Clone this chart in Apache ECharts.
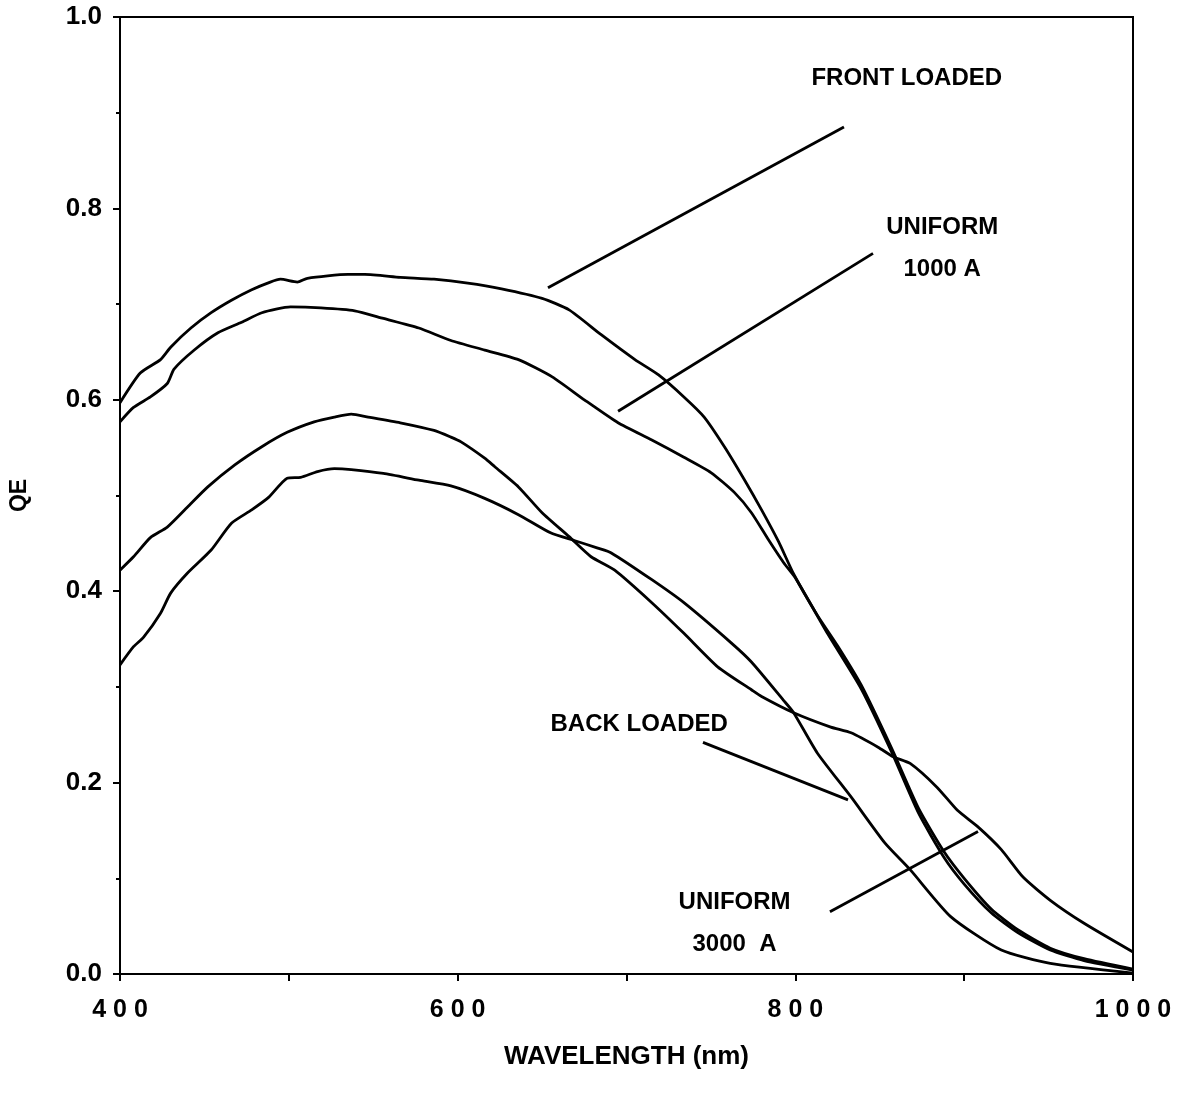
<!DOCTYPE html>
<html>
<head>
<meta charset="utf-8">
<script src="https://cdn.jsdelivr.net/npm/echarts@6/dist/echarts.min.js"></script>
<style>
  html, body { margin: 0; padding: 0; background: #fff; }
  #chart { width: 1181px; height: 1099px; }
</style>
</head>
<body>
<div id="chart"></div>
<script>
// ---- Data (wavelength in nm, QE fraction) ----
const wlFront = [400,412,424,430,442,454,466,478,489,495,505,511,535,545,566,586,606,626,650,666,685,705,719,734,746,758,770,780,790,799,813,825,839,857,873,888,900,916,932,951,971,1000];
const qeFront = [0.597,0.628,0.642,0.655,0.675,0.691,0.704,0.715,0.723,0.726,0.723,0.727,0.731,0.731,0.728,0.726,0.722,0.716,0.706,0.694,0.668,0.642,0.626,0.603,0.582,0.551,0.516,0.485,0.452,0.418,0.375,0.343,0.302,0.236,0.173,0.128,0.100,0.068,0.046,0.027,0.016,0.005];

const wlUni1000 = [400,408,418,428,432,444,458,472,484,501,519,539,556,577,596,616,636,656,675,695,715,734,750,764,774,784,793,800,819,839,857,873,888,900,916,932,951,971,1000];
const qeUni1000 = [0.577,0.592,0.603,0.617,0.632,0.652,0.670,0.681,0.691,0.697,0.696,0.693,0.685,0.675,0.662,0.652,0.642,0.624,0.600,0.576,0.558,0.540,0.524,0.503,0.482,0.454,0.430,0.414,0.356,0.298,0.232,0.168,0.122,0.094,0.064,0.043,0.025,0.014,0.004];

const wlUni3000 = [400,408,418,428,440,452,468,484,499,515,527,537,547,566,586,596,602,616,622,636,650,666,679,693,715,734,754,774,780,799,821,833,849,858,868,884,896,908,922,935,951,971,1000];
const qeUni3000 = [0.422,0.436,0.456,0.467,0.488,0.509,0.532,0.551,0.566,0.577,0.582,0.585,0.582,0.576,0.568,0.561,0.556,0.539,0.530,0.509,0.482,0.457,0.436,0.422,0.388,0.356,0.321,0.297,0.290,0.273,0.258,0.252,0.237,0.227,0.220,0.195,0.171,0.154,0.130,0.101,0.077,0.053,0.023];

const wlBack = [400,408,414,424,430,440,454,466,478,488,499,507,517,527,537,556,577,596,616,636,655,669,683,691,715,734,762,774,793,799,813,833,853,868,892,922,951,1000];
const qeBack = [0.323,0.342,0.352,0.377,0.398,0.419,0.443,0.471,0.485,0.498,0.518,0.519,0.525,0.528,0.527,0.523,0.516,0.510,0.497,0.480,0.461,0.453,0.445,0.440,0.412,0.388,0.346,0.326,0.286,0.273,0.231,0.185,0.137,0.109,0.060,0.025,0.011,0.001];

// Annotation texts and leader lines (data coordinates)
const labelTexts = ['FRONT LOADED', 'UNIFORM\n1000 A', 'BACK LOADED', 'UNIFORM\n3000  A'];
const labelAnchors = [[866, 0.936], [887, 0.758], [707.5, 0.261], [764, 0.053]];
const leaderFront = [[653.5, 0.717], [828.8, 0.885]];
const leaderUni1000 = [[695.0, 0.588], [846.0, 0.753]];
const leaderBack = [[745.3, 0.242], [831.2, 0.182]];
const leaderUni3000 = [[820.5, 0.065], [908.2, 0.149]];

const xTicks = { min: 400, max: 1000, step: 100, labelStep: 200 };
const yTicks = { min: 0, max: 1, step: 0.2 };

// ---- Build ----
const zip = (xs, ys) => xs.map((x, i) => [x, ys[i]]);
const FONT = '"Liberation Sans", Arial, Helvetica, sans-serif';

function curve(name, xs, ys) {
  return {
    name, type: 'line', data: zip(xs, ys), showSymbol: false, symbol: 'none',
    lineStyle: { color: '#000', width: 2.8 }, smooth: 0.2, z: 3, silent: true
  };
}
function leader(name, pts) {
  return {
    name, type: 'line', data: pts, showSymbol: false, symbol: 'none',
    lineStyle: { color: '#000', width: 2.8 }, z: 4, silent: true
  };
}

const chart = echarts.init(document.getElementById('chart'), null, { renderer: 'canvas' });
chart.setOption({
  animation: false,
  backgroundColor: '#fff',
  grid: {
    left: 119, right: 48, top: 17, bottom: 125,
    show: true, borderColor: '#000', borderWidth: 2, backgroundColor: 'transparent'
  },
  xAxis: {
    type: 'value', min: xTicks.min, max: xTicks.max, interval: xTicks.step,
    axisLine: { show: true, lineStyle: { color: '#000', width: 2 } },
    axisTick: { show: true, inside: false, length: 7, lineStyle: { color: '#000', width: 2 } },
    splitLine: { show: false },
    axisLabel: {
      show: true, margin: 24, color: '#000', fontFamily: FONT, fontWeight: 'bold', fontSize: 25,
      showMaxLabel: true, showMinLabel: true,
      formatter: v => ((v - xTicks.min) % xTicks.labelStep === 0) ? String(v).split('').join(' ') : ''
    },
    name: 'WAVELENGTH (nm)', nameLocation: 'middle', nameGap: 70,
    nameTextStyle: { color: '#000', fontFamily: FONT, fontWeight: 'bold', fontSize: 26 }
  },
  yAxis: {
    type: 'value', min: yTicks.min, max: yTicks.max, interval: yTicks.step,
    axisLine: { show: true, lineStyle: { color: '#000', width: 2 } },
    axisTick: { show: true, inside: false, length: 7, lineStyle: { color: '#000', width: 2 } },
    minorTick: { show: true, splitNumber: 2, length: 4, lineStyle: { color: '#000', width: 2 } },
    splitLine: { show: false },
    axisLabel: {
      show: true, margin: 18, color: '#000', fontFamily: FONT, fontWeight: 'bold', fontSize: 26,
      formatter: v => v.toFixed(1)
    },
    name: 'QE', nameLocation: 'middle', nameGap: 89, nameRotate: 90,
    nameTextStyle: { color: '#000', fontFamily: FONT, fontWeight: 'bold', fontSize: 23 }
  },
  series: [
    curve('FRONT LOADED', wlFront, qeFront),
    curve('UNIFORM 1000 A', wlUni1000, qeUni1000),
    curve('UNIFORM 3000 A', wlUni3000, qeUni3000),
    curve('BACK LOADED', wlBack, qeBack),
    leader('leader-front', leaderFront),
    leader('leader-uni1000', leaderUni1000),
    leader('leader-back', leaderBack),
    leader('leader-uni3000', leaderUni3000),
    {
      name: 'labels', type: 'scatter', symbol: 'circle', symbolSize: 0, silent: true, z: 5,
      itemStyle: { color: '#000', opacity: 1 },
      emphasis: { disabled: true },
      data: labelAnchors.map((p, i) => ({ value: p, name: labelTexts[i] })),
      label: {
        show: true, position: [0, 0], formatter: p => p.name,
        color: '#000', opacity: 1, textBorderWidth: 0, fontFamily: FONT, fontWeight: 'bold', fontSize: 24,
        lineHeight: 42, align: 'center', verticalAlign: 'middle'
      }
    }
  ]
});
</script>
</body>
</html>
